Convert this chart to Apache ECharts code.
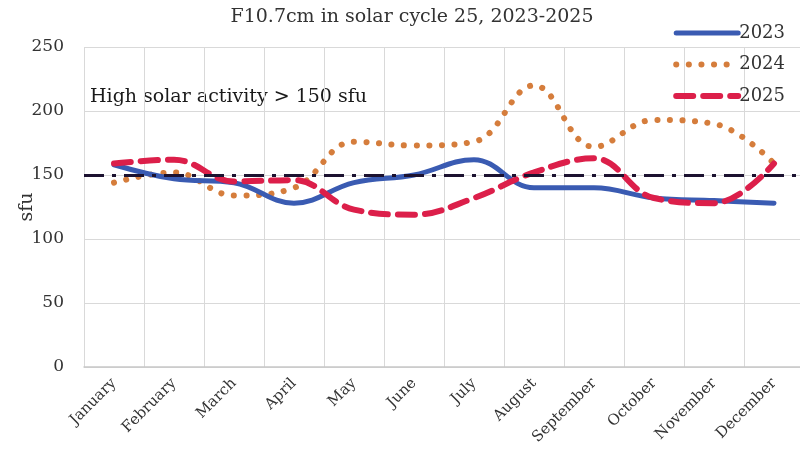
<!DOCTYPE html>
<html><head><meta charset="utf-8">
<script src="https://cdn.jsdelivr.net/npm/echarts@6/dist/echarts.min.js"></script>
<style>html,body{margin:0;padding:0;background:#fff}#c{width:800px;height:459px}</style>
</head><body><div id="c"></div>
<script>
const months = ['January','February','March','April','May','June','July','August','September','October','November','December'];
const s2023 = [158, 147, 144, 128, 144, 150, 162, 140, 140, 132, 130, 128];
const s2024 = [144, 152, 134, 140, 176, 173, 176, 220, 172, 193, 190, 159];
const s2025 = [159, 162, 145, 146, 123, 119, 132, 152, 163, 132, 128, 159];
const threshold = 150;
const yTicks = {min: 0, max: 250, interval: 50};

const serif = '"DejaVu Serif", serif';
const C23 = '#3a5bb2', C24 = '#d57d3c', C25 = '#dc1f4a';
const L23 = {color: C23, width: 5, type: 'solid', cap: 'round'};
const L24 = {color: C24, width: 6, type: [0.1, 12.5], cap: 'round'};
const L25 = {color: C25, width: 6, type: [17, 10], cap: 'round'};
const chart = echarts.init(document.getElementById('c'), null, {renderer: 'canvas'});
chart.setOption({
  animation: false,
  backgroundColor: '#fff',
  title: {
    text: 'F10.7cm in solar cycle 25, 2023-2025',
    left: 407, top: 3, textAlign: 'center',
    textStyle: {fontFamily: serif, fontSize: 19, fontWeight: 'normal', color: '#333'}
  },
  legend: {
    orient: 'vertical', right: 10, top: 19, itemWidth: 62, itemHeight: 14, itemGap: 13.5,
    textStyle: {fontFamily: serif, fontSize: 18, color: '#333', padding: [0,0,0,-4]},
    itemStyle: {opacity: 0},
    data: [
      {name: '2023', lineStyle: L23, itemStyle: {opacity: 0}},
      {name: '2024', lineStyle: L24, itemStyle: {opacity: 0}},
      {name: '2025', lineStyle: L25, itemStyle: {opacity: 0}}
    ]
  },
  grid: {left: 84, top: 47, width: 720, height: 320, containLabel: false, outerBoundsMode: 'none'},
  xAxis: {
    type: 'category', data: months, boundaryGap: true,
    axisLine: {show: true, lineStyle: {color: '#c8c8c8', width: 1.5}},
    axisTick: {show: false},
    splitLine: {show: true, lineStyle: {color: '#d9d9d9', width: 1}},
    axisLabel: {rotate: 45, interval: 0, fontFamily: serif, fontSize: 15, color: '#333', margin: 14}
  },
  yAxis: {
    type: 'value', min: yTicks.min, max: yTicks.max, interval: yTicks.interval,
    name: 'sfu', nameLocation: 'middle', nameGap: 47, nameRotate: 90, nameMoveOverlap: false,
    nameTextStyle: {fontFamily: serif, fontSize: 19, color: '#333'},
    axisLine: {show: false}, axisTick: {show: false},
    splitLine: {lineStyle: {color: '#d9d9d9', width: 1}},
    axisLabel: {fontFamily: serif, fontSize: 17, color: '#333', margin: 20}
  },
  graphic: [{
    type: 'text', left: 90, top: 88,
    style: {text: 'High solar activity > 150 sfu', font: '19px "DejaVu Serif", serif', fill: '#1a1a1a'}
  }],
  series: [
    {
      name: '2023', type: 'line', data: s2023, smooth: 0.4, symbol: 'none', z: 3,
      itemStyle: {color: C23}, lineStyle: L23,
      markLine: {
        silent: true, symbol: 'none', label: {show: false},
        lineStyle: {color: '#1c1230', width: 3, type: [20, 8, 4, 8]},
        data: [{yAxis: threshold}]
      }
    },
    {
      name: '2024', type: 'line', data: s2024, smooth: 0.4, symbol: 'none', z: 2,
      itemStyle: {color: C24}, lineStyle: L24
    },
    {
      name: '2025', type: 'line', data: s2025, smooth: 0.4, symbol: 'none', z: 4,
      itemStyle: {color: C25}, lineStyle: L25
    }
  ]
});
</script></body></html>
